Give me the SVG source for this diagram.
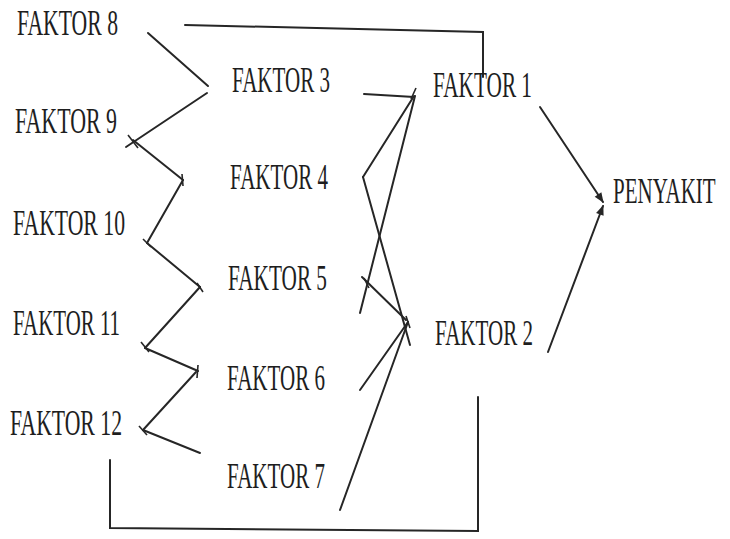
<svg xmlns="http://www.w3.org/2000/svg" width="730" height="539" viewBox="0 0 730 539">
<defs>
<style>
.t{font-family:"Liberation Serif","Times New Roman",serif;font-size:35px;fill:#1e1e1e}
.c{stroke:#262626;stroke-width:2;fill:none;stroke-linecap:round}
.k{stroke:#262626;stroke-width:1.6;fill:none}
</style>
<marker id="ah" viewBox="0 0 10 10" refX="9" refY="5" markerWidth="11" markerHeight="10" orient="auto" markerUnits="userSpaceOnUse">
<path d="M0,1 L10,5 L0,9 Z" fill="#262626"/>
</marker>
</defs>
<rect width="730" height="539" fill="#fff"/>
<g id="connectors">
<path class="c" d="M185,25 L483,32 L483,77"/>
<path class="c" d="M110,460 L110,528 L478,531 L478,397"/>
<line class="c" x1="148" y1="33" x2="208" y2="86"/>
<line class="c" x1="207" y1="93" x2="126" y2="147"/>
<line class="c" x1="133" y1="140" x2="183" y2="180"/>
<line class="c" x1="183" y1="180" x2="147" y2="243"/>
<line class="c" x1="147" y1="243" x2="200" y2="287"/>
<line class="c" x1="200" y1="287" x2="145" y2="348"/>
<line class="c" x1="145" y1="348" x2="198" y2="371"/>
<line class="c" x1="196" y1="372" x2="143" y2="430"/>
<line class="c" x1="143" y1="430" x2="200" y2="453"/>
<line class="c" x1="364" y1="94" x2="414" y2="97"/>
<line class="c" x1="414" y1="96" x2="363" y2="177"/>
<line class="c" x1="363" y1="177" x2="410" y2="345"/>
<line class="c" x1="415" y1="96" x2="360" y2="313"/>
<line class="c" x1="362" y1="277" x2="406" y2="320"/>
<line class="c" x1="408" y1="322" x2="360" y2="390"/>
<line class="c" x1="408" y1="322" x2="340" y2="510"/>
<line class="c" x1="540" y1="107" x2="603" y2="202" marker-end="url(#ah)"/>
<line class="c" x1="548" y1="352" x2="603" y2="206" marker-end="url(#ah)"/>
<line class="k" x1="128" y1="135" x2="138" y2="148"/>
<line class="k" x1="182" y1="174" x2="183" y2="186"/>
<line class="k" x1="143" y1="239" x2="151" y2="247"/>
<line class="k" x1="197" y1="283" x2="203" y2="292"/>
<line class="k" x1="141" y1="342" x2="149" y2="352"/>
<line class="k" x1="198" y1="365" x2="197" y2="378"/>
<line class="k" x1="139" y1="426" x2="147" y2="435"/>
<line class="k" x1="416" y1="88" x2="411" y2="99"/>
<line class="k" x1="364" y1="278" x2="369" y2="288"/>
<line class="k" x1="406" y1="316" x2="410" y2="328"/>
</g>
<g id="faktor8"><text class="t" x="17" y="35" textLength="101" lengthAdjust="spacingAndGlyphs">FAKTOR 8</text></g>
<g id="faktor9"><text class="t" x="15" y="133" textLength="102" lengthAdjust="spacingAndGlyphs">FAKTOR 9</text></g>
<g id="faktor10"><text class="t" x="13" y="235" textLength="112" lengthAdjust="spacingAndGlyphs">FAKTOR 10</text></g>
<g id="faktor11"><text class="t" x="13" y="335" textLength="107" lengthAdjust="spacingAndGlyphs">FAKTOR 11</text></g>
<g id="faktor12"><text class="t" x="10" y="435" textLength="112" lengthAdjust="spacingAndGlyphs">FAKTOR 12</text></g>
<g id="faktor3"><text class="t" x="232" y="92" textLength="98" lengthAdjust="spacingAndGlyphs">FAKTOR 3</text></g>
<g id="faktor4"><text class="t" x="230" y="189" textLength="98" lengthAdjust="spacingAndGlyphs">FAKTOR 4</text></g>
<g id="faktor5"><text class="t" x="228" y="290" textLength="99" lengthAdjust="spacingAndGlyphs">FAKTOR 5</text></g>
<g id="faktor6"><text class="t" x="227" y="390" textLength="98" lengthAdjust="spacingAndGlyphs">FAKTOR 6</text></g>
<g id="faktor7"><text class="t" x="227" y="488" textLength="98" lengthAdjust="spacingAndGlyphs">FAKTOR 7</text></g>
<g id="faktor1"><text class="t" x="433" y="97" textLength="99" lengthAdjust="spacingAndGlyphs">FAKTOR 1</text></g>
<g id="faktor2"><text class="t" x="435" y="345" textLength="98" lengthAdjust="spacingAndGlyphs">FAKTOR 2</text></g>
<g id="penyakit"><text class="t" transform="translate(613,203) scale(0.6,1)" x="0" y="0">PENYAKIT</text></g>
</svg>
